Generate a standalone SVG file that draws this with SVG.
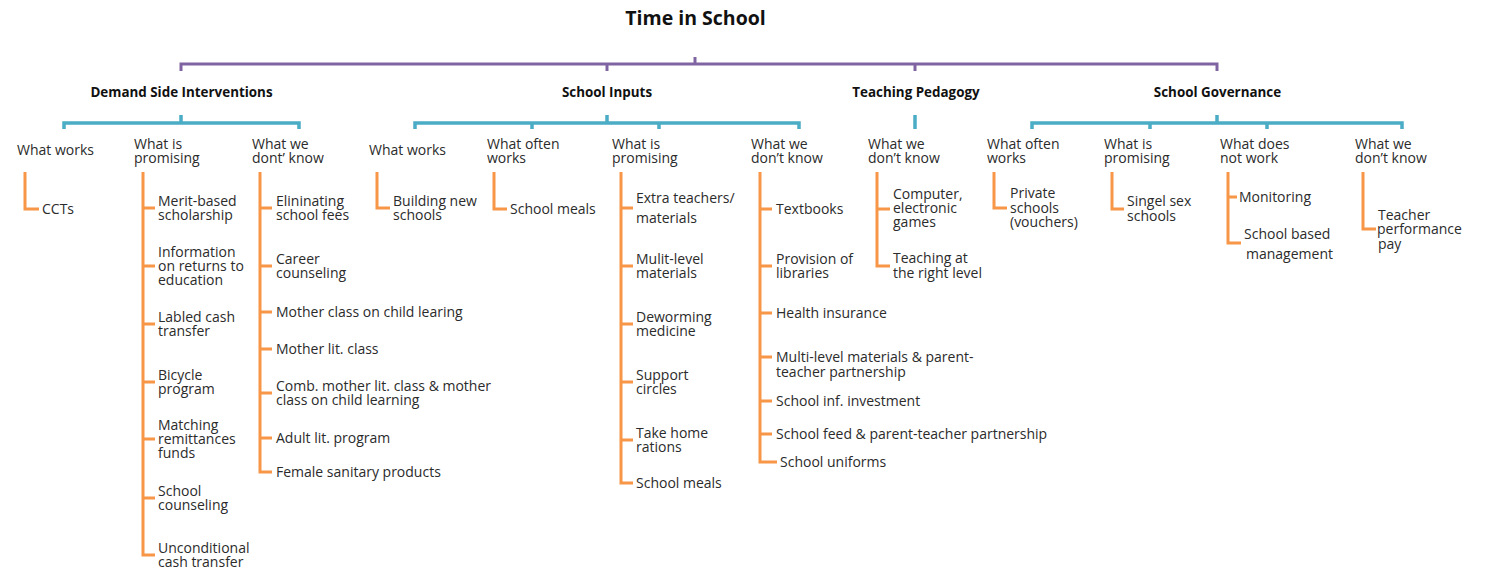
<svg xmlns="http://www.w3.org/2000/svg" width="1485" height="571" viewBox="0 0 1485 571">
<style>
text{font-family:"Open Sans","Noto Sans","Liberation Sans",sans-serif;fill:#2b2b2b;font-size:14px}
.title{font-size:19.5px;font-weight:bold;fill:#111}
.cat{font-size:13.4px;font-weight:bold;fill:#111;text-anchor:middle}
.p{fill:none;stroke:#8064A2;stroke-width:3}
.b{fill:none;stroke:#4BACC6;stroke-width:3.5}
.o{fill:none;stroke:#F79646;stroke-width:3}
</style>
<rect width="1485" height="571" fill="#fff"/>
<g id="connectors">
<path class="p" d="M181,71V64H1217V71M607,64V71M915,64V71M695,57V64"/>
<path class="b" d="M64,129V123H299V129M181,115V123"/>
<path class="b" d="M415,129V123H799V129M532,123V129M659,123V129M607,115V123"/>
<path class="b" d="M915,115V129"/>
<path class="b" d="M1032,129V123H1402V129M1150,123V129M1267,123V129M1217,115V123"/>
<path class="o" d="M25,172V209H39"/>
<path class="o" d="M143,172V555H155M143,208H155M143,266H155M143,324H155M143,382H155M143,439H155M143,498H155"/>
<path class="o" d="M260,172V472H272M260,208H272M260,266H272M260,312H272M260,349H272M260,393H272M260,438H272"/>
<path class="o" d="M377,172V208H390"/>
<path class="o" d="M494,172V209H507"/>
<path class="o" d="M621,172V483H633M621,208H633M621,266H633M621,324H633M621,382H633M621,440H633"/>
<path class="o" d="M760,172V462H777M760,209H772M760,266H772M760,313H772M760,357H772M760,401H772M760,434H772"/>
<path class="o" d="M877,172V266H890M877,209H890"/>
<path class="o" d="M994,172V208H1007"/>
<path class="o" d="M1112,172V209H1124"/>
<path class="o" d="M1228,172V243H1241M1228,197H1237"/>
<path class="o" d="M1363,172V229H1376"/>
</g>
<g id="title"><text class="title" x="695.5" y="25" text-anchor="middle">Time in School</text></g>
<g id="cat-demand"><text class="cat" x="181.5" y="97">Demand Side Interventions</text></g>
<g id="cat-inputs"><text class="cat" x="607" y="97">School Inputs</text></g>
<g id="cat-pedagogy"><text class="cat" x="916" y="97">Teaching Pedagogy</text></g>
<g id="cat-governance"><text class="cat" x="1217.5" y="97">School Governance</text></g>

<g id="d-works"><text x="17" y="155">What works</text>
<text x="42" y="214">CCTs</text></g>

<g id="d-promising"><text x="134" y="149">What is<tspan x="134" y="163">promising</tspan></text>
<text x="158" y="206">Merit-based<tspan x="158" y="220">scholarship</tspan></text>
<text x="158" y="257">Information<tspan x="158" y="271">on returns to</tspan><tspan x="158" y="285">education</tspan></text>
<text x="158" y="322">Labled cash<tspan x="158" y="336">transfer</tspan></text>
<text x="158" y="380">Bicycle<tspan x="158" y="394">program</tspan></text>
<text x="158" y="430">Matching<tspan x="158" y="444">remittances</tspan><tspan x="158" y="458">funds</tspan></text>
<text x="158" y="496">School<tspan x="158" y="510">counseling</tspan></text>
<text x="158" y="553">Unconditional<tspan x="158" y="567">cash transfer</tspan></text></g>

<g id="d-dontknow"><text x="252" y="149">What we<tspan x="252" y="163">dont’ know</tspan></text>
<text x="276" y="206">Elininating<tspan x="276" y="220">school fees</tspan></text>
<text x="276" y="264">Career<tspan x="276" y="278">counseling</tspan></text>
<text x="276" y="317">Mother class on child learing</text>
<text x="276" y="354">Mother lit. class</text>
<text x="276" y="391">Comb. mother lit. class &amp; mother<tspan x="276" y="405">class on child learning</tspan></text>
<text x="276" y="443">Adult lit. program</text>
<text x="276" y="477">Female sanitary products</text></g>

<g id="i-works"><text x="369" y="155">What works</text>
<text x="393" y="206">Building new<tspan x="393" y="220">schools</tspan></text></g>

<g id="i-often"><text x="487" y="149">What often<tspan x="487" y="163">works</tspan></text>
<text x="510" y="214">School meals</text></g>

<g id="i-promising"><text x="612" y="149">What is<tspan x="612" y="163">promising</tspan></text>
<text x="636" y="203">Extra teachers/<tspan x="636" y="223">materials</tspan></text>
<text x="636" y="264">Mulit-level<tspan x="636" y="278">materials</tspan></text>
<text x="636" y="322">Deworming<tspan x="636" y="336">medicine</tspan></text>
<text x="636" y="380">Support<tspan x="636" y="394">circles</tspan></text>
<text x="636" y="438">Take home<tspan x="636" y="452">rations</tspan></text>
<text x="636" y="488">School meals</text></g>

<g id="i-dontknow"><text x="751" y="149">What we<tspan x="751" y="163">don’t know</tspan></text>
<text x="776" y="214">Textbooks</text>
<text x="776" y="264">Provision of<tspan x="776" y="278">libraries</tspan></text>
<text x="776" y="318">Health insurance</text>
<text x="776" y="362">Multi-level materials &amp; parent-<tspan x="776" y="377">teacher partnership</tspan></text>
<text x="776" y="406">School inf. investment</text>
<text x="776" y="439">School feed &amp; parent-teacher partnership</text>
<text x="780" y="467">School uniforms</text></g>

<g id="p-dontknow"><text x="868" y="149">What we<tspan x="868" y="163">don’t know</tspan></text>
<text x="893" y="199">Computer,<tspan x="893" y="213">electronic</tspan><tspan x="893" y="227">games</tspan></text>
<text x="893" y="263">Teaching at<tspan x="893" y="278">the right level</tspan></text></g>

<g id="g-often"><text x="987" y="149">What often<tspan x="987" y="163">works</tspan></text>
<text x="1010" y="198">Private<tspan x="1010" y="213">schools</tspan><tspan x="1010" y="227">(vouchers)</tspan></text></g>

<g id="g-promising"><text x="1104" y="149">What is<tspan x="1104" y="163">promising</tspan></text>
<text x="1127" y="206">Singel sex<tspan x="1127" y="221">schools</tspan></text></g>

<g id="g-notwork"><text x="1220" y="149">What does<tspan x="1220" y="163">not work</tspan></text>
<text x="1239" y="202">Monitoring</text>
<text x="1244" y="239">School based<tspan x="1246" y="259">management</tspan></text></g>

<g id="g-dontknow"><text x="1355" y="149">What we<tspan x="1355" y="163">don’t know</tspan></text>
<text x="1378" y="220">Teacher<tspan x="1377" y="234">performance</tspan><tspan x="1378" y="249">pay</tspan></text></g>
</svg>
